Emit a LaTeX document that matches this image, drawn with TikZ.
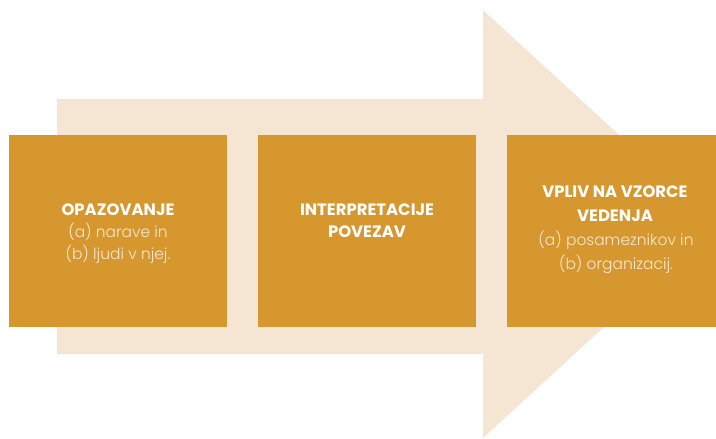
\documentclass[tikz,border=0pt]{standalone}
\usepackage{fontspec}
\setmainfont{Poppins}
\newfontfamily\lightfont{Poppins Light}
\definecolor{beige}{HTML}{F5E6D3}
\definecolor{ochre}{HTML}{D6972E}
\definecolor{cream}{HTML}{F7E7D2}
\begin{document}
\begin{tikzpicture}[x=1bp,y=-1bp,
  box/.style={fill=ochre, draw=none, minimum width=218bp, minimum height=192bp, inner sep=0pt, anchor=north west},
  head/.style={anchor=base, inner sep=0pt, text=white, font=\fontsize{16.5}{20}\selectfont\bfseries},
  body/.style={anchor=base, inner sep=0pt, text=cream, font=\fontsize{15.5}{20}\selectfont\lightfont}]
\useasboundingbox (0,0) rectangle (716,439);
\fill[beige] (57,99) -- (483,99) -- (483,10) -- (716,224) -- (483,438) -- (483,354) -- (57,354) -- cycle;
\node[box] (b1) at (9,135) {};
\node[box] (b2) at (258,135) {};
\node[box, minimum width=217bp] (b3) at (507,135) {};
\node[head] (t1a) at (118,216) {OPAZOVANJE};
\node[body] (t1b) at (118,238) {(a) narave in};
\node[body] (t1c) at (118,260) {(b) ljudi v njej.};
\node[head] (t2a) at (367,216) {INTERPRETACIJE};
\node[head] (t2b) at (367,238) {POVEZAV};
\node[head] (t3a) at (615,198) {VPLIV NA VZORCE};
\node[head] (t3b) at (615,222) {VEDENJA};
\node[body] (t3c) at (616,246) {(a) posameznikov in};
\node[body] (t3d) at (616,270) {(b) organizacij.};
\end{tikzpicture}
\end{document}
